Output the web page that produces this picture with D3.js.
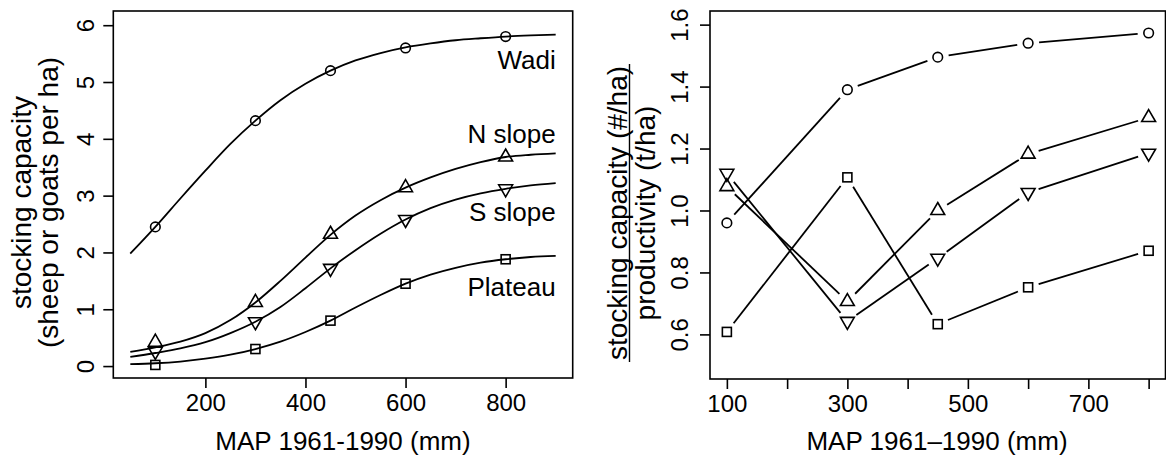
<!DOCTYPE html>
<html><head><meta charset="utf-8">
<script src="https://cdn.jsdelivr.net/npm/d3@7"></script>
<style>body{margin:0;background:#fff}svg{display:block}text{font-family:"Liberation Sans",Arial,Helvetica,sans-serif;fill:#000}</style>
</head><body>
<script>
// ---------- data ----------
const mapPoints = [100, 300, 450, 600, 800];
const leftSeriesNames = ["Wadi", "N slope", "S slope", "Plateau"];
const wadiPts    = [2.45, 4.32, 5.20, 5.60, 5.80];
const nSlopePts  = [0.42, 1.12, 2.32, 3.14, 3.68];
const sSlopePts  = [0.26, 0.78, 1.72, 2.58, 3.12];
const plateauPts = [0.02, 0.30, 0.80, 1.45, 1.88];
// fitted curves
const curveX = [50,100,150,200,250,300,350,400,450,500,550,600,650,700,750,800,850,900];
const wadiCurve    = [1.98,2.45,2.95,3.44,3.91,4.32,4.68,4.97,5.20,5.38,5.51,5.61,5.68,5.735,5.77,5.80,5.82,5.835];
const nSlopeCurve  = [0.25,0.33,0.43,0.58,0.81,1.12,1.50,1.91,2.31,2.65,2.92,3.14,3.32,3.47,3.59,3.68,3.72,3.745];
const sSlopeCurve  = [0.16,0.23,0.31,0.42,0.58,0.78,1.04,1.37,1.72,2.04,2.33,2.58,2.78,2.93,3.04,3.12,3.18,3.22];
const plateauCurve = [0.035,0.05,0.08,0.13,0.20,0.30,0.43,0.60,0.80,1.03,1.25,1.45,1.61,1.73,1.82,1.88,1.92,1.94];
const leftXTicks = [200, 400, 600, 800];
const leftYTicks = [0, 1, 2, 3, 4, 5, 6];
// right panel ratios
const ratioWadi    = [0.96, 1.39, 1.495, 1.54, 1.573];
const ratioNSlope  = [1.077, 0.706, 1.00, 1.182, 1.30];
const ratioSSlope  = [1.12, 0.642, 0.846, 1.058, 1.185];
const ratioPlateau = [0.608, 1.107, 0.633, 0.752, 0.870];
const rightXTicks = [100, 200, 300, 400, 500, 600, 700, 800];
const rightXLabels = [100, 300, 500, 700];
const rightYTicks = [0.6, 0.8, 1.0, 1.2, 1.4, 1.6];
const shapes = ["circle", "up", "down", "square"];

// ---------- drawing ----------
const W = 1166, H = 463;
const svg = d3.select("body").append("svg").attr("width", W).attr("height", H);
const FS = 24, FT = 26, FY = 28, LW = 1.6;

function marker(g, shape, cx, cy) {
  if (shape === "circle") {
    g.append("circle").attr("cx", cx).attr("cy", cy).attr("r", 4.8)
      .attr("fill", "none").attr("stroke", "#000").attr("stroke-width", LW);
  } else if (shape === "square") {
    g.append("rect").attr("x", cx - 4.5).attr("y", cy - 4.5).attr("width", 9).attr("height", 9)
      .attr("fill", "none").attr("stroke", "#000").attr("stroke-width", LW);
  } else {
    const r = 8, s = shape === "up" ? 1 : -1;
    const pts = [[cx, cy - s * r], [cx + 0.866 * r, cy + s * r / 2], [cx - 0.866 * r, cy + s * r / 2]];
    g.append("path").attr("d", "M" + pts.map(p => p.join(",")).join("L") + "Z")
      .attr("fill", "none").attr("stroke", "#000").attr("stroke-width", LW);
  }
}

// ---------- left panel ----------
const L = {x0: 113.3, x1: 572.7, y0: 11, y1: 378};
const xL = d3.scaleLinear().domain([16, 934]).range([L.x0, L.x1]);
const yL = d3.scaleLinear().domain([-0.21, 6.25]).range([L.y1, L.y0]);
const gL = svg.append("g");
gL.append("rect").attr("x", L.x0).attr("y", L.y0).attr("width", L.x1 - L.x0).attr("height", L.y1 - L.y0)
  .attr("fill", "none").attr("stroke", "#000").attr("stroke-width", LW);

const axBL = gL.append("g").attr("transform", `translate(0,${L.y1})`)
  .call(d3.axisBottom(xL).tickValues(leftXTicks).tickSize(10).tickPadding(0).tickFormat(d3.format("d")));
axBL.select(".domain").remove();
axBL.selectAll("line").attr("stroke-width", LW);
axBL.selectAll("text").attr("y", 25).attr("dy", "0.35em").style("font-size", FS + "px");

const axLL = gL.append("g").attr("transform", `translate(${L.x0},0)`)
  .call(d3.axisLeft(yL).tickValues(leftYTicks).tickSize(10).tickFormat(d3.format("d")));
axLL.select(".domain").remove();
axLL.selectAll("line").attr("stroke-width", LW);
axLL.selectAll("text").attr("x", null).attr("dy", null)
  .attr("transform", "translate(-28,0) rotate(-90)")
  .attr("text-anchor", "middle").attr("dy", "0.35em").style("font-size", FS + "px");

const curves = [wadiCurve, nSlopeCurve, sSlopeCurve, plateauCurve];
const ptsL = [wadiPts, nSlopePts, sSlopePts, plateauPts];
const line = d3.line().x((d, i) => xL(curveX[i])).y(d => yL(d)).curve(d3.curveMonotoneX);
curves.forEach(c => gL.append("path").attr("d", line(c)).attr("fill", "none").attr("stroke", "#000").attr("stroke-width", LW + 0.2));
ptsL.forEach((s, k) => s.forEach((v, i) => marker(gL, shapes[k], xL(mapPoints[i]), yL(v))));

const labelY = [5.39, 4.1, 2.71, 1.39];
leftSeriesNames.forEach((n, k) => gL.append("text").attr("x", xL(900)).attr("y", yL(labelY[k]))
  .attr("dy", "0.36em").attr("text-anchor", "end").style("font-size", FT + "px").text(n));

gL.append("text").attr("x", (L.x0 + L.x1) / 2).attr("y", 441).attr("dy", "0.36em")
  .attr("text-anchor", "middle").style("font-size", FT + "px").text("MAP 1961-1990 (mm)");
const cyL = (L.y0 + L.y1) / 2 + 8;
gL.append("text").attr("transform", `translate(21,${cyL}) rotate(-90)`).attr("dy", "0.36em")
  .attr("text-anchor", "middle").style("font-size", FY + "px").text("stocking capacity");
gL.append("text").attr("transform", `translate(48,${cyL}) rotate(-90)`).attr("dy", "0.36em")
  .attr("text-anchor", "middle").style("font-size", FY + "px").text("(sheep or goats per ha)");

// ---------- right panel ----------
const R = {x0: 710, x1: 1165.5, y0: 11, y1: 379};
const xR = d3.scaleLinear().domain([72, 828]).range([R.x0, R.x1]);
const yR = d3.scaleLinear().domain([0.456, 1.644]).range([R.y1, R.y0]);
const gR = svg.append("g");
gR.append("rect").attr("x", R.x0).attr("y", R.y0).attr("width", R.x1 - R.x0).attr("height", R.y1 - R.y0)
  .attr("fill", "none").attr("stroke", "#000").attr("stroke-width", LW);

const axBR = gR.append("g").attr("transform", `translate(0,${R.y1})`)
  .call(d3.axisBottom(xR).tickValues(rightXTicks).tickSize(10).tickFormat(d => rightXLabels.includes(d) ? d : ""));
axBR.select(".domain").remove();
axBR.selectAll("line").attr("stroke-width", LW);
axBR.selectAll("text").attr("y", 25).attr("dy", "0.35em").style("font-size", FS + "px");

const axLR = gR.append("g").attr("transform", `translate(${R.x0},0)`)
  .call(d3.axisLeft(yR).tickValues(rightYTicks).tickSize(10).tickFormat(d3.format(".1f")));
axLR.select(".domain").remove();
axLR.selectAll("line").attr("stroke-width", LW);
axLR.selectAll("text").attr("x", null).attr("dy", null)
  .attr("transform", "translate(-30,0) rotate(-90)")
  .attr("text-anchor", "middle").attr("dy", "0.35em").style("font-size", FS + "px");

const ratios = [ratioWadi, ratioNSlope, ratioSSlope, ratioPlateau];
const GAP = 11;
ratios.forEach((s, k) => {
  const p = s.map((v, i) => [xR(mapPoints[i]), yR(v)]);
  for (let i = 0; i < p.length - 1; i++) {
    const [ax, ay] = p[i], [bx, by] = p[i + 1];
    const d = Math.hypot(bx - ax, by - ay), ux = (bx - ax) / d, uy = (by - ay) / d;
    gR.append("line").attr("x1", ax + ux * GAP).attr("y1", ay + uy * GAP)
      .attr("x2", bx - ux * GAP).attr("y2", by - uy * GAP)
      .attr("stroke", "#000").attr("stroke-width", LW + 0.2);
  }
  p.forEach(([cx, cy]) => marker(gR, shapes[k], cx, cy));
});

gR.append("text").attr("x", 937).attr("y", 441).attr("dy", "0.36em")
  .attr("text-anchor", "middle").style("font-size", FT + "px").text("MAP 1961\u20131990 (mm)");
const cyR = (R.y0 + R.y1) / 2 + 18;
const num = gR.append("text").attr("transform", `translate(617,${cyR}) rotate(-90)`).attr("dy", "0.36em")
  .attr("text-anchor", "middle").style("font-size", FY + "px").text("stocking capacity (#/ha)");
const nw = num.node().getComputedTextLength();
gR.append("line").attr("x1", 629.5).attr("x2", 629.5).attr("y1", cyR - nw / 2 - 2).attr("y2", cyR + nw / 2 + 2)
  .attr("stroke", "#000").attr("stroke-width", 1.4);
gR.append("text").attr("transform", `translate(645,${cyR}) rotate(-90)`).attr("dy", "0.36em")
  .attr("text-anchor", "middle").style("font-size", FY + "px").text("productivity (t/ha)");
</script>
</body></html>
